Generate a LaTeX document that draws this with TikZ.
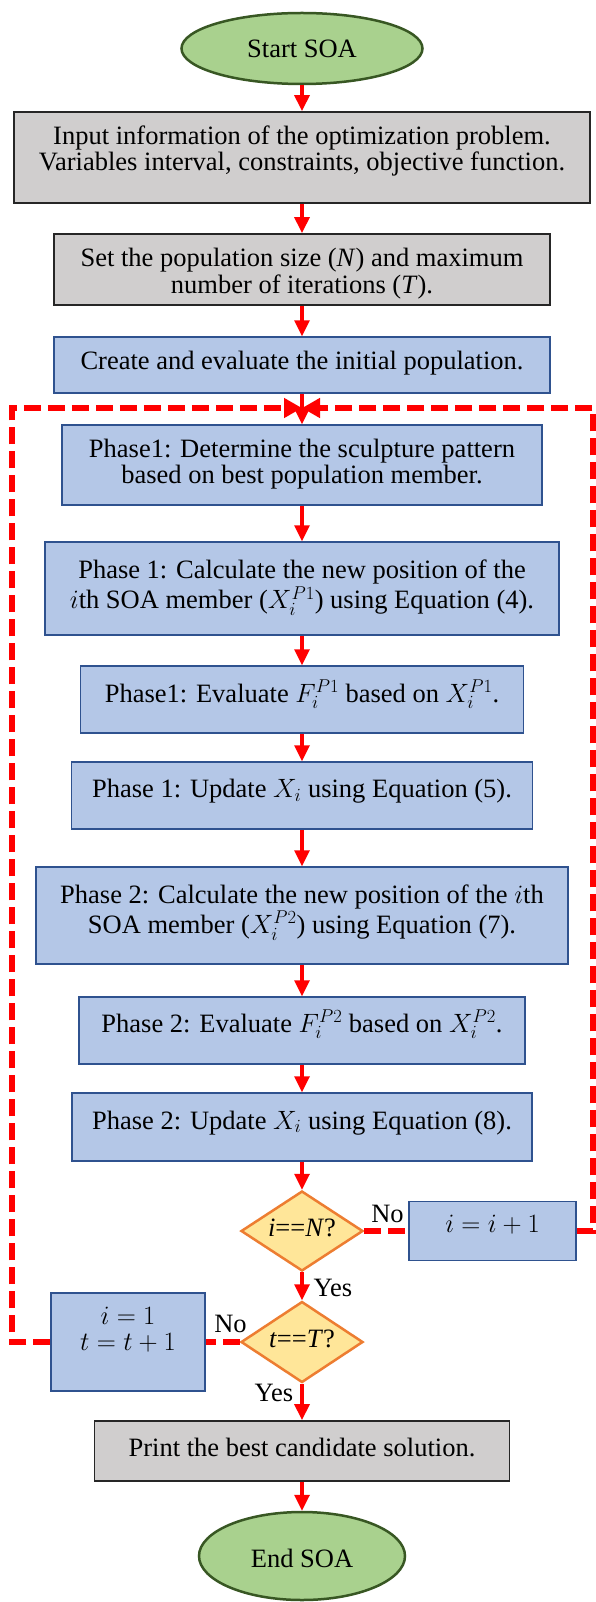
\RequirePackage{fix-cm}
\documentclass[tikz,border=0pt]{standalone}
\usepackage{fontspec}
\setmainfont{Liberation Serif}
\usetikzlibrary{shapes.geometric,arrows.meta}
\definecolor{bfill}{RGB}{180,199,231}
\definecolor{bdraw}{RGB}{47,82,143}
\definecolor{gfill}{RGB}{208,206,206}
\definecolor{gdraw}{RGB}{38,38,38}
\definecolor{efill}{RGB}{169,209,142}
\definecolor{edraw}{RGB}{56,87,35}
\definecolor{dfill}{RGB}{255,230,153}
\definecolor{ddraw}{RGB}{237,125,49}
\definecolor{flow}{RGB}{255,0,0}
\newcommand\boxtxt[2][0pt]{\raisebox{#1}[\height][\depth]{\begin{tabular}{@{}c@{}}#2\end{tabular}}}
\begin{document}
\begin{tikzpicture}[x=1pt,y=-1pt,
  every node/.style={font=\fontsize{26.5}{26.5}\selectfont, inner sep=0pt},
  graybox/.style={rectangle, fill=gfill, draw=gdraw, line width=1.8pt},
  bluebox/.style={rectangle, fill=bfill, draw=bdraw, line width=1.5pt},
  term/.style={ellipse, fill=efill, draw=edraw, line width=2.5pt},
  decision/.style={diamond, aspect=1.5, fill=dfill, draw=ddraw, line width=2.5pt},
  flowarrow/.style={draw=flow, line width=3.3pt, -{Triangle[width=15pt,length=16pt]}},
  loopline/.style={draw=flow, line width=6pt, dash pattern=on 17pt off 7pt},
  looparrow/.style={loopline, -{Triangle[width=19pt,length=18pt]}}
]
\useasboundingbox (0,0) rectangle (595,1602);
\fill[white] (0,0) rectangle (595,1602);

\node[term, minimum width=241pt, minimum height=71pt] (start) at (302,48.5) {\boxtxt[-4pt]{Start SOA}};
\node[graybox, minimum width=576pt, minimum height=91pt] (in) at (302,157.5) {\boxtxt[5.5pt]{Input information of the optimization problem.\\Variables interval, constraints, objective function.}};
\node[graybox, minimum width=496pt, minimum height=71pt] (pop) at (302,269.5) {\boxtxt[-5pt]{Set the population size (\textit{N}) and maximum\\number of iterations (\textit{T}).}};
\node[bluebox, minimum width=496pt, minimum height=56pt] (create) at (302,365) {\boxtxt[1pt]{Create and evaluate the initial population.}};
\node[bluebox, minimum width=480pt, minimum height=80pt] (ph1) at (302,465) {\boxtxt{Phase1: Determine the sculpture pattern\\based on best population member.}};
\node[bluebox, minimum width=514pt, minimum height=93pt] (calc1) at (302,588.5) {\boxtxt{Phase 1: Calculate the new position of the\\$i$th SOA member ($X_i^{P1}$) using Equation (4).}};
\node[bluebox, minimum width=443pt, minimum height=67pt] (eval1) at (302,699.5) {\boxtxt[4.5pt]{Phase1: Evaluate $F_i^{P1}$ based on $X_i^{P1}$.}};
\node[bluebox, minimum width=461pt, minimum height=67pt] (upd1) at (302,795.5) {\boxtxt[3pt]{Phase 1: Update $X_i$ using Equation (5).}};
\node[bluebox, minimum width=532pt, minimum height=97pt] (calc2) at (302,915.5) {\boxtxt[2.5pt]{Phase 2: Calculate the new position of the $i$th\\SOA member ($X_i^{P2}$) using Equation (7).}};
\node[bluebox, minimum width=446pt, minimum height=67pt] (eval2) at (302,1030.5) {\boxtxt[5.5pt]{Phase 2: Evaluate $F_i^{P2}$ based on $X_i^{P2}$.}};
\node[bluebox, minimum width=460pt, minimum height=68pt] (upd2) at (302,1127) {\boxtxt[3.3pt]{Phase 2: Update $X_i$ using Equation (8).}};
\node[decision, minimum width=122pt, minimum height=80pt] (dec1) at (302,1231) {\boxtxt{\textit{i}==\textit{N}?}};
\node[bluebox, minimum width=167pt, minimum height=59pt] (iplus) at (492.5,1231) {\boxtxt[4pt]{$i=i+1$}};
\node[decision, minimum width=122pt, minimum height=81pt] (dec2) at (302,1342) {\boxtxt{\textit{t}==\textit{T}?}};
\node[bluebox, minimum width=154pt, minimum height=98pt] (ione) at (128,1342) {\boxtxt[10pt]{$i=1$\\$t=t+1$}};
\node[graybox, minimum width=415pt, minimum height=60pt] (print) at (302,1451) {\boxtxt{Print the best candidate solution.}};
\node[term, minimum width=206pt, minimum height=88pt] (end) at (302,1556) {\boxtxt[-6pt]{End SOA}};

\node (no1) at (387.5,1216.7) {\boxtxt{No}};
\node (yes1) at (333,1290.7) {\boxtxt{Yes}};
\node (no2) at (230.5,1327.4) {\boxtxt{No}};
\node (yes2) at (274,1396.4) {\boxtxt{Yes}};

\coordinate (join) at (302,408);
\coordinate (rtop) at (593,408);
\coordinate (ltop) at (12,408);

\draw[looparrow] (iplus.east) -| (rtop) -- (join);
\draw[looparrow] (ione.west) -| (ltop) -- (join);
\draw[loopline] (dec1.east) -- (iplus.west);
\draw[loopline] (dec2.west) -- (ione.east);

\foreach \a/\b in {start/in, in/pop, pop/create, create/ph1, ph1/calc1, calc1/eval1, eval1/upd1, upd1/calc2, calc2/eval2, eval2/upd2, upd2/dec1, dec1/dec2, dec2/print, print/end}
  \draw[flowarrow] (\a.south) -- (\b.north);
\end{tikzpicture}
\end{document}
